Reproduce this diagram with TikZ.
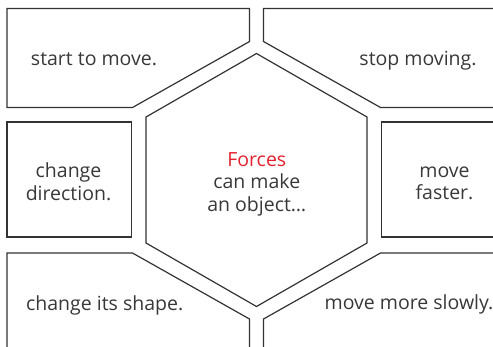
\documentclass[tikz,border=0pt]{standalone}
\usepackage{fontspec}
\setmainfont{Open Sans}
\definecolor{ink}{HTML}{333333}
\definecolor{textgrey}{HTML}{383838}
\definecolor{forcered}{HTML}{E2222F}

\begin{document}
\begin{tikzpicture}[x=1pt, y=-1pt,
  panel/.style={draw=ink, line width=1.2pt, line join=miter},
  caption/.style={text=textgrey, font=\fontsize{19.5}{22.6}\selectfont,
    inner sep=0pt, align=center}]
  \useasboundingbox (0,0) rectangle (493,346);
  \clip (0,0) rectangle (493,346);

  % outer panels around the hexagon
  \draw[panel] (7,8.5) -- (249.5,8.5) -- (249.5,41.5) -- (132.5,107.5) -- (7,107.5) -- cycle;
  \draw[panel] (263.5,8.5) -- (510,8.5) -- (510,107.5) -- (380.5,107.5) -- (263.5,41.5) -- cycle;
  \draw[panel] (7,122) rectangle (131.5,237);
  \draw[panel] (381.5,122) rectangle (510,237);
  \draw[panel] (7,360) -- (7,253) -- (132.5,253) -- (249.5,319) -- (249.5,360);
  \draw[panel] (510,253) -- (380.5,253) -- (263.5,319) -- (263.5,360);

  % central hexagon
  \draw[panel] (256.5,53.5) -- (367,117) -- (367,243) -- (256.5,306.5)
    -- (146,243) -- (146,117) -- cycle;

  % texts
  \node[caption, anchor=base] (start) at (94,65.7) {start to move.};
  \node[caption, anchor=base] (stop) at (418,65.7) {stop moving.};
  \node[caption] (direction) at (68.5,181.8) {change\\direction.};
  \node[caption] (faster) at (444.5,183.3) {move\\faster.};
  \node[caption] (forces) at (256.8,184)
    {\textcolor{forcered}{Forces}\\can make\\an object\ldots};
  \node[caption, anchor=base] (shape) at (104.7,310) {change its shape.};
  \node[caption, anchor=base] (slowly) at (409,309.5) {move more slowly.};
\end{tikzpicture}
\end{document}
